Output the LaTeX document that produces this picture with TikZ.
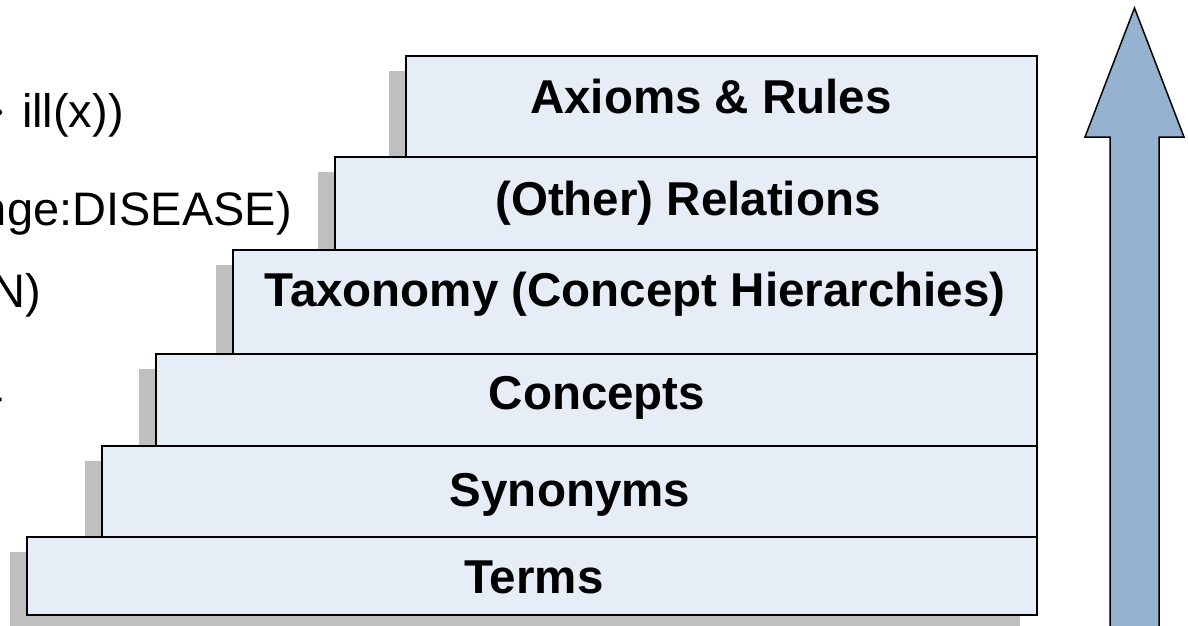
\documentclass[tikz,border=0pt]{standalone}
\usepackage{fontspec}
\setmainfont{Liberation Sans}
\newfontfamily\arrowfont{DejaVu Sans}
\usetikzlibrary{shadows}
\definecolor{stepfill}{RGB}{230,237,247}
\definecolor{stepshade}{RGB}{191,191,191}
\definecolor{arrowfill}{RGB}{149,179,209}
\tikzset{
  stepbox/.style={draw=black, line width=1.5pt, fill=stepfill, anchor=north west,
    inner sep=0pt, outer sep=0pt,
    drop shadow={shadow xshift=-17pt, shadow yshift=-15pt, fill=stepshade, opacity=1}},
  steplabel/.style={anchor=base, inner sep=0pt, font=\fontsize{47.5}{57}\selectfont\bfseries},
  sidelabel/.style={anchor=base east, inner sep=0pt, font=\fontsize{47}{56}\selectfont},
  uparrow/.style={draw=black, line width=1.5pt, fill=arrowfill, line join=miter}
}
\begin{document}
\begin{tikzpicture}[x=1pt, y=-1pt]
\useasboundingbox (0,0) rectangle (1188,626);
\clip (0,0) rectangle (1188,626);
% cut-off text on the left
\node[sidelabel] (rulefrag) at (124,127) {{\arrowfont →}\hspace{4pt} ill(x))};
\node[sidelabel] (rangefrag) at (292,225) {nge:DISEASE)};
\node[sidelabel] (isafrag) at (41,307) {N)};
\node[sidelabel] (synfrag) at (4,412) {-};
% the steps, from the top down
\node[stepbox, minimum width=631pt, minimum height=101pt] (axioms) at (406,56) {};
\node[stepbox, minimum width=702pt, minimum height=93pt] (relations) at (335,157) {};
\node[stepbox, minimum width=804pt, minimum height=104pt] (taxonomy) at (233,250) {};
\node[stepbox, minimum width=881pt, minimum height=92pt] (concepts) at (156,354) {};
\node[stepbox, minimum width=935pt, minimum height=91pt] (synonyms) at (102,446) {};
\node[stepbox, minimum width=1010pt, minimum height=78pt] (terms) at (27,537) {};
\node[steplabel] (axiomstext) at (711,113) {Axioms \& Rules};
\node[steplabel] (relationstext) at (688,215) {(Other) Relations};
\node[steplabel] (taxonomytext) at (635,306) {Taxonomy (Concept Hierarchies)};
\node[steplabel] (conceptstext) at (597,409) {Concepts};
\node[steplabel] (synonymstext) at (570,506) {Synonyms};
\node[steplabel] (termstext) at (534,593) {Terms};
% big arrow on the right
\draw[uparrow] (1110,640) -- (1110,137) -- (1085,137) -- (1134.5,8)
  -- (1184,137) -- (1159,137) -- (1159,640) -- cycle;
\end{tikzpicture}
\end{document}
